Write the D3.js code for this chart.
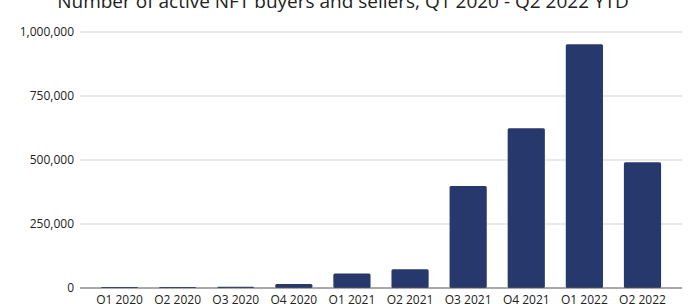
<!DOCTYPE html>
<html>
<head>
<meta charset="utf-8">
<script src="https://cdn.jsdelivr.net/npm/d3@7"></script>
<style>
  body { margin: 0; background: #fff; }
  svg { display: block; font-family: "Open Sans", sans-serif; }
</style>
</head>
<body>
<svg id="chart" width="700" height="304"></svg>
<script>
// quarters and active buyers/sellers
const quarters = ["Q1 2020", "Q2 2020", "Q3 2020", "Q4 2020", "Q1 2021", "Q2 2021",
                  "Q3 2021", "Q4 2021", "Q1 2022", "Q2 2022"];
const wallets = [4000, 4000, 5000, 16000, 57000, 73000, 398000, 624000, 952000, 491000];
const yTicks = [0, 250000, 500000, 750000, 1000000];

const svg = d3.select("#chart");

const x = d3.scaleBand()
    .domain(quarters)
    .range([80, 682])
    .padding(0.36);

const y = d3.scaleLinear()
    .domain([0, 1000000])
    .range([288, 32]);

// title (cut off at top like the original)
svg.append("text")
    .attr("x", 343)
    .attr("y", 8)
    .attr("text-anchor", "middle")
    .style("font-size", "19px")
    .style("fill", "#222")
    .text("Number of active NFT buyers and sellers, Q1 2020 - Q2 2022 YTD");

// gridlines
svg.append("g").selectAll("line")
    .data(yTicks.filter(d => d > 0))
    .join("line")
    .attr("x1", 80).attr("x2", 682)
    .attr("y1", d => y(d)).attr("y2", d => y(d))
    .style("stroke", "#d3d3d3")
    .style("stroke-width", 1);

// y labels
svg.append("g").selectAll("text")
    .data(yTicks)
    .join("text")
    .attr("x", 74)
    .attr("y", d => y(d))
    .attr("dy", "0.35em")
    .attr("text-anchor", "end")
    .style("font-size", "12px")
    .style("fill", "#222")
    .text(d => d3.format(",")(d));

// bars
svg.append("g").selectAll("rect")
    .data(wallets)
    .join("rect")
    .attr("x", (d, i) => x(quarters[i]))
    .attr("y", d => y(d))
    .attr("width", x.bandwidth())
    .attr("height", d => y(0) - y(d))
    .attr("rx", 1.5)
    .style("fill", "#27386c");

// baseline
svg.append("line")
    .attr("x1", 80).attr("x2", 682)
    .attr("y1", y(0)).attr("y2", y(0))
    .style("stroke", "#555")
    .style("stroke-width", 1.2);

// x labels
svg.append("g").selectAll("text")
    .data(quarters)
    .join("text")
    .attr("x", d => x(d) + x.bandwidth() / 2)
    .attr("y", 304)
    .attr("text-anchor", "middle")
    .style("font-size", "12px")
    .style("fill", "#222")
    .text(d => d);
</script>
</body>
</html>
